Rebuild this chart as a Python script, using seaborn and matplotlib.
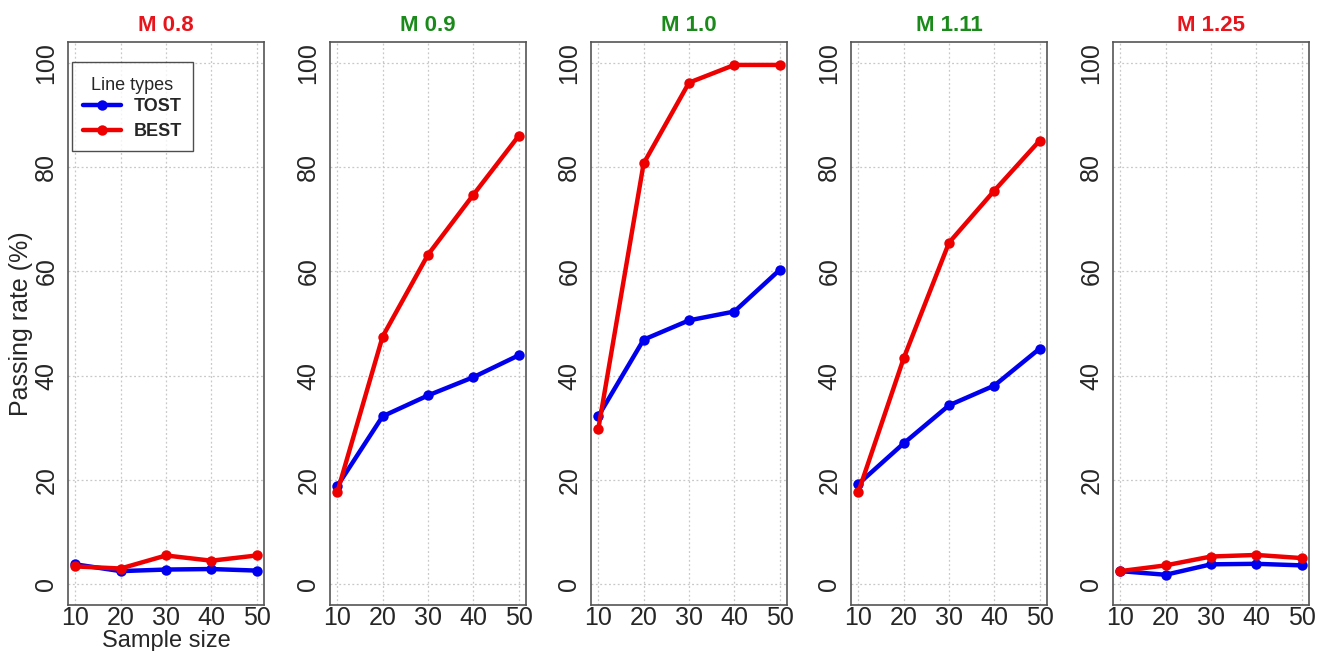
import numpy as np
import pandas as pd
import matplotlib
matplotlib.use("Agg")
import matplotlib.pyplot as plt
import seaborn as sns

# ==================== DONNEES ====================
sample_sizes = [10, 20, 30, 40, 50]
panel_titles = ["M 0.8", "M 0.9", "M 1.0", "M 1.11", "M 1.25"]
title_colors = ["#e8141c", "#1a8a1a", "#1a8a1a", "#1a8a1a", "#e8141c"]

tost = [
    [3.8, 2.5, 2.8, 2.9, 2.6],
    [18.8, 32.2, 36.2, 39.7, 43.9],
    [32.2, 46.9, 50.6, 52.3, 60.3],
    [19.2, 27.0, 34.3, 38.1, 45.2],
    [2.5, 1.8, 3.8, 3.9, 3.6],
]
best = [
    [3.4, 3.0, 5.5, 4.5, 5.5],
    [17.6, 47.5, 63.2, 74.7, 86.0],
    [29.7, 80.7, 96.2, 99.6, 99.6],
    [17.6, 43.3, 65.5, 75.5, 85.1],
    [2.5, 3.6, 5.3, 5.6, 5.0],
]
y_ticks = [0, 20, 40, 60, 80, 100]

rows = []
for i, title in enumerate(panel_titles):
    for j, n in enumerate(sample_sizes):
        rows.append({"panel": title, "n": n, "method": "TOST", "rate": tost[i][j]})
        rows.append({"panel": title, "n": n, "method": "BEST", "rate": best[i][j]})
df = pd.DataFrame(rows)

# ==================== GRAPHIQUE ====================
sns.set_style("white")
plt.rcParams['font.family'] = ['Liberation Sans', 'DejaVu Sans']

fig = plt.figure(figsize=(13.23, 6.51), dpi=100)
palette = {"TOST": "#0000ee", "BEST": "#ee0000"}

W, H = 1323, 651
lefts = [68, 330, 591, 851, 1113]
aw, top, bottom = 196, 42, 605

for i, title in enumerate(panel_titles):
    ax = fig.add_axes([lefts[i] / W, 1 - bottom / H, aw / W, (bottom - top) / H])
    sub = df[df.panel == title]
    sns.lineplot(data=sub, x="n", y="rate", hue="method", hue_order=["TOST", "BEST"],
                 palette=palette, marker="o", markersize=7.5, markeredgewidth=0,
                 linewidth=3.2, ax=ax, legend=(i == 0))
    ax.set_xlim(8.4, 51.6)
    ax.set_ylim(-4, 104)
    ax.set_xticks(sample_sizes)
    ax.set_yticks(y_ticks)
    ax.grid(True, color="#c8c8c8", linestyle=(0, (1.5, 2)), linewidth=0.9)
    ax.tick_params(axis="both", labelsize=18, length=5, color="#555555", pad=2)
    ax.tick_params(axis="x", length=0, pad=1)
    for lab in ax.get_yticklabels():
        lab.set_rotation(90)
        lab.set_va("center")
    for s in ax.spines.values():
        s.set_color("#555555")
        s.set_linewidth(1.2)
    ax.set_title(title, color=title_colors[i], fontweight="bold", fontsize=16, pad=8)
    if i == 0:
        ax.set_xlabel("Sample size", fontsize=17, labelpad=0)
        ax.set_ylabel("Passing rate (%)", fontsize=18, labelpad=1)
        leg = ax.legend(title="Line types", loc="upper left", bbox_to_anchor=(0.02, 0.964),
                        borderaxespad=0, fontsize=13, title_fontsize=13, frameon=True,
                        fancybox=False, edgecolor="#222222", handlelength=2.1,
                        borderpad=0.6, labelspacing=0.45, handletextpad=0.7)
        leg.get_frame().set_linewidth(1.0)
        leg.get_title().set_position((0, -4))
        for t in leg.get_texts():
            t.set_fontweight("bold")
    else:
        ax.set_xlabel("")
        ax.set_ylabel("")

plt.savefig("out.png", dpi=100)
plt.close()
